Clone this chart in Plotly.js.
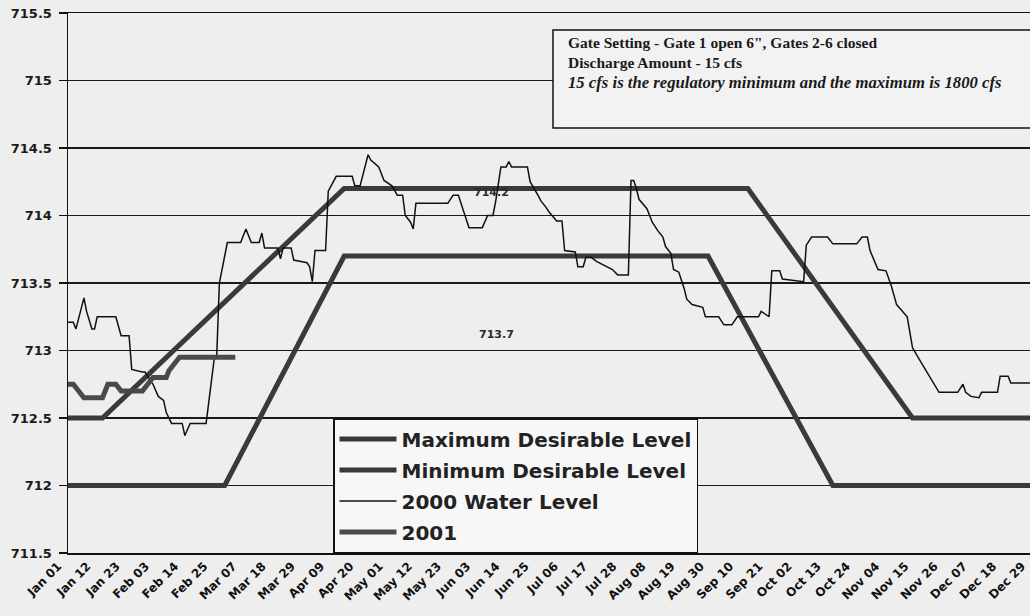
<!DOCTYPE html>
<html>
<head>
<meta charset="utf-8">
<script src="https://cdn.plot.ly/plotly-3.0.1.min.js"></script>
<style>
  html, body { margin: 0; padding: 0; background: #eeeeee; overflow: hidden; }
  #chart { width: 1040px; height: 616px; }
</style>
</head>
<body>
<div id="chart"></div>
<script>
// ---- data (day offsets from Jan 01 2000, lake levels in ft) ----
const tickLabels = ['Jan 01','Jan 12','Jan 23','Feb 03','Feb 14','Feb 25','Mar 07','Mar 18','Mar 29',
  'Apr 09','Apr 20','May 01','May 12','May 23','Jun 03','Jun 14','Jun 25','Jul 06','Jul 17','Jul 28',
  'Aug 08','Aug 19','Aug 30','Sep 10','Sep 21','Oct 02','Oct 13','Oct 24','Nov 04','Nov 15','Nov 26',
  'Dec 07','Dec 18','Dec 29'];

const yTickVals = [711.5, 712, 712.5, 713, 713.5, 714, 714.5, 715, 715.5];
const yTickText = ['711.5', '712', '712.5', '713', '713.5', '714', '714.5', '715', '715.5'];

const maxDays  = [0, 13, 104, 256, 318, 365];
const maxLevel = [712.5, 712.5, 714.2, 714.2, 712.5, 712.5];

const minDays  = [0, 59, 104, 241, 288, 365];
const minLevel = [712, 712, 713.7, 713.7, 712, 712];

const days2000 = [0, 2, 3, 6, 7, 9, 10, 11, 18, 20, 23, 24, 28, 29, 32, 34, 36, 37, 39, 43, 44, 46, 52, 55, 56, 57,
  60, 65, 67, 69, 72, 73, 74, 79, 80, 81, 84, 85, 90, 91, 92, 93, 97, 98, 101, 107, 108, 110, 113, 114, 117,
  119, 122, 124, 126, 127, 129, 130, 131, 143, 145, 147, 149, 151, 156, 158, 160, 161, 163, 165, 166, 167,
  173, 174, 177, 178, 180, 181, 184, 186, 187, 191, 192, 194, 195, 197, 199, 205, 207, 211, 212, 213, 214,
  215, 218, 220, 222, 224, 225, 227, 228, 230, 232, 233, 235, 239, 240, 245, 247, 250, 252, 260, 261, 264,
  265, 268, 269, 277, 278, 280, 286, 288, 297, 299, 301, 302, 305, 308, 310, 312, 316, 318, 321, 324, 326,
  328, 335, 337, 338, 340, 343, 344, 350, 351, 354, 355, 365];
const level2000 = [713.21, 713.21, 713.16, 713.39, 713.29, 713.16, 713.16, 713.25, 713.25, 713.11, 713.11,
  712.86, 712.84, 712.84, 712.75, 712.66, 712.63, 712.54, 712.46, 712.46, 712.37, 712.46, 712.46, 712.93,
  712.96, 713.50, 713.80, 713.80, 713.90, 713.80, 713.80, 713.87, 713.76, 713.76, 713.68, 713.76, 713.76,
  713.67, 713.65, 713.62, 713.51, 713.74, 713.74, 714.18, 714.29, 714.29, 714.22, 714.22, 714.45, 714.41,
  714.36, 714.26, 714.22, 714.15, 714.15, 714.00, 713.95, 713.90, 714.09, 714.09, 714.15, 714.15, 714.03,
  713.91, 713.91, 714.00, 714.00, 714.10, 714.36, 714.36, 714.40, 714.36, 714.36, 714.25, 714.15, 714.11,
  714.06, 714.03, 713.96, 713.96, 713.74, 713.73, 713.62, 713.62, 713.69, 713.69, 713.66, 713.60, 713.56,
  713.56, 714.26, 714.26, 714.20, 714.12, 714.05, 713.95, 713.89, 713.84, 713.77, 713.72, 713.60, 713.58,
  713.46, 713.38, 713.34, 713.32, 713.25, 713.25, 713.19, 713.19, 713.25, 713.25, 713.29, 713.25, 713.59,
  713.59, 713.53, 713.51, 713.78, 713.84, 713.84, 713.79, 713.79, 713.84, 713.84, 713.74, 713.60, 713.59,
  713.48, 713.34, 713.25, 713.02, 712.92, 712.82, 712.75, 712.69, 712.69, 712.75, 712.69, 712.66, 712.65,
  712.69, 712.69, 712.81, 712.81, 712.76, 712.76];

const days2001  = [0, 2, 6, 13, 15, 18, 20, 28, 32, 37, 38, 40, 42, 63];
const level2001 = [712.75, 712.75, 712.65, 712.65, 712.75, 712.75, 712.70, 712.70, 712.80, 712.80, 712.85,
  712.90, 712.95, 712.95];

const boxLines = [
  '<b>Gate Setting - Gate 1 open 6", Gates 2-6 closed</b>',
  '<b>Discharge Amount - 15 cfs</b>',
  '<b><i>15 cfs is the regulatory minimum and the maximum is 1800 cfs</i></b>'
];

// ---- helpers ----
const BASE = Date.UTC(2000, 0, 1);
function dayToDate(d) {
  return new Date(BASE + d * 86400000).toISOString().replace('T', ' ').slice(0, 19);
}
const MONTHS = {Jan:0,Feb:1,Mar:2,Apr:3,May:4,Jun:5,Jul:6,Aug:7,Sep:8,Oct:9,Nov:10,Dec:11};
function labelToDate(lbl) {
  const [m, d] = lbl.split(' ');
  return new Date(Date.UTC(2000, MONTHS[m], parseInt(d, 10))).toISOString().slice(0, 10);
}

const SANS = 'DejaVu Sans, Arial, sans-serif';
const SERIF = 'Liberation Serif, Times New Roman, serif';

const traces = [
  { name: 'Maximum Desirable Level', legendgroup: 'a', x: maxDays.map(dayToDate), y: maxLevel, mode: 'lines',
    line: { color: '#3a3a3a', width: 5 } },
  { name: 'Minimum Desirable Level', legendgroup: 'b', x: minDays.map(dayToDate), y: minLevel, mode: 'lines',
    line: { color: '#3a3a3a', width: 5 } },
  { name: '2000 Water Level', legendgroup: 'c', x: days2000.map(dayToDate), y: level2000, mode: 'lines',
    line: { color: '#111111', width: 1.5 } },
  { name: '2001', legendgroup: 'd', x: days2001.map(dayToDate), y: level2001, mode: 'lines',
    line: { color: '#4a4a4a', width: 5 } }
];

const W = 972, H = 540, L = 68, T = 13;
function px(x) { return (x - L) / W; }
function py(y) { return 1 - (y - T) / H; }

const annotations = [
  { xref: 'x', yref: 'y', x: dayToDate(159.6), y: 714.17, text: '<b>714.2</b>', showarrow: false,
    font: { family: SANS, size: 11, color: '#2a2a2a' } },
  { xref: 'x', yref: 'y', x: dayToDate(161.5), y: 713.12, text: '<b>713.7</b>', showarrow: false,
    font: { family: SANS, size: 11, color: '#2a2a2a' } }
];
const boxY = [42, 62, 82];
const boxSize = [15.5, 15.5, 16.7];
boxLines.forEach((t, i) => {
  annotations.push({ xref: 'paper', yref: 'paper', x: px(566), y: py(boxY[i]), xanchor: 'left',
    yanchor: 'middle', text: t, showarrow: false, align: 'left',
    font: { family: SERIF, size: boxSize[i], color: '#1a1a1a' } });
});

const layout = {
  width: 1040, height: 616,
  margin: { l: L, r: 0, t: T, b: 616 - T - H, pad: 0 },
  paper_bgcolor: '#eeeeee',
  plot_bgcolor: '#eeeeee',
  showlegend: true,
  legend: {
    x: px(333), y: py(418), xanchor: 'left', yanchor: 'top',
    bgcolor: '#f7f7f7', bordercolor: '#111111', borderwidth: 1.5,
    font: { family: SANS, size: 20, color: '#222222', weight: 'bold' },
    itemwidth: 57,
    tracegroupgap: 2
  },
  xaxis: {
    type: 'date',
    range: [dayToDate(0), dayToDate(366)],
    tickvals: tickLabels.map(labelToDate),
    ticktext: tickLabels,
    tickangle: -45,
    ticklabelshift: -10,
    tickfont: { family: SANS, size: 12, color: '#111111', weight: 'bold' },
    ticks: '',
    showgrid: false,
    showline: true, linecolor: '#111111', linewidth: 1.5, mirror: true,
    zeroline: false, fixedrange: true
  },
  yaxis: {
    range: [711.5, 715.5],
    tickvals: yTickVals,
    ticktext: yTickText,
    tickfont: { family: SANS, size: 13, color: '#1a1a1a', weight: 'bold' },
    ticks: 'outside', ticklen: 8, tickwidth: 1.5, tickcolor: '#111111',
    ticklabelstandoff: 4,
    showgrid: true, gridcolor: '#1a1a1a', gridwidth: 1.5,
    showline: true, linecolor: '#111111', linewidth: 1.5,
    zeroline: false, fixedrange: true
  },
  shapes: [
    { type: 'rect', xref: 'paper', yref: 'paper', x0: px(553), x1: 1.05, y0: py(128), y1: py(30),
      line: { color: '#111111', width: 1.5 }, fillcolor: '#f2f2f2', layer: 'above' }
  ],
  annotations: annotations
};

Plotly.newPlot('chart', traces, layout, { displayModeBar: false, staticPlot: true });
</script>
</body>
</html>
